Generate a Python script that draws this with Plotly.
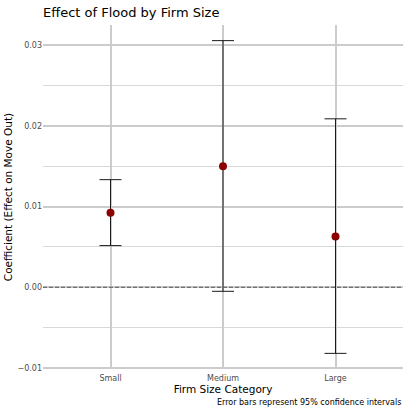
import plotly.graph_objects as go

categories = ["Small", "Medium", "Large"]
coef = [0.00926, 0.01503, 0.0063]
ci_low = [0.00517, -0.0005, -0.0082]
ci_high = [0.01335, 0.0306, 0.0209]

err_plus = [h - c for h, c in zip(ci_high, coef)]
err_minus = [c - l for c, l in zip(coef, ci_low)]

fig = go.Figure()
fig.add_trace(go.Scatter(
    x=categories, y=coef, mode="markers",
    marker=dict(color="#8B0000", size=8),
    error_y=dict(type="data", symmetric=False, array=err_plus, arrayminus=err_minus,
                 color="#1a1a1a", thickness=1, width=11),
    showlegend=False,
))

fig.add_hline(y=0, line=dict(color="#555555", width=1, dash="4px,2px"))

lo, hi = min(ci_low), max(ci_high)
pad = (hi - lo) * 0.05
font = "DejaVu Sans"
fig.update_layout(
    width=407, height=407,
    margin=dict(l=43, r=4, t=25, b=38),
    plot_bgcolor="white", paper_bgcolor="white",
    font=dict(family=font, color="#1a1a1a"),
    title=dict(text="Effect of Flood by Firm Size", x=0, xref="paper", xanchor="left",
               y=0.97, yref="container", yanchor="middle", font=dict(size=13, color="#000000")),
    xaxis=dict(range=[-0.6, 2.6], showgrid=True, gridcolor="#cccccc", gridwidth=1.5,
               zeroline=False, showline=False, ticks="", ticklabelstandoff=3,
               tickfont=dict(size=8, color="#4d4d4d"),
               title=dict(text="Firm Size Category", font=dict(size=10.5, color="#000000"), standoff=0)),
    yaxis=dict(range=[lo - pad, hi + pad], tickvals=[-0.01, 0.0, 0.01, 0.02, 0.03],
               tickformat=".2f", showgrid=True, gridcolor="#cccccc", gridwidth=1.5,
               minor=dict(tickvals=[-0.005, 0.005, 0.015, 0.025], showgrid=True,
                          gridcolor="#d9d9d9", gridwidth=1),
               zeroline=False, showline=False, ticks="",
               tickfont=dict(size=8, color="#4d4d4d"),
               title=dict(text="Coefficient (Effect on Move Out)", font=dict(size=10.5, color="#000000"), standoff=2)),
    annotations=[dict(text="Error bars represent 95% confidence intervals", x=1, y=0,
                      xref="paper", yref="paper", xanchor="right", yanchor="top",
                      yshift=-27, showarrow=False, font=dict(size=8, color="#000000"))],
)

fig.write_html("out.html")
